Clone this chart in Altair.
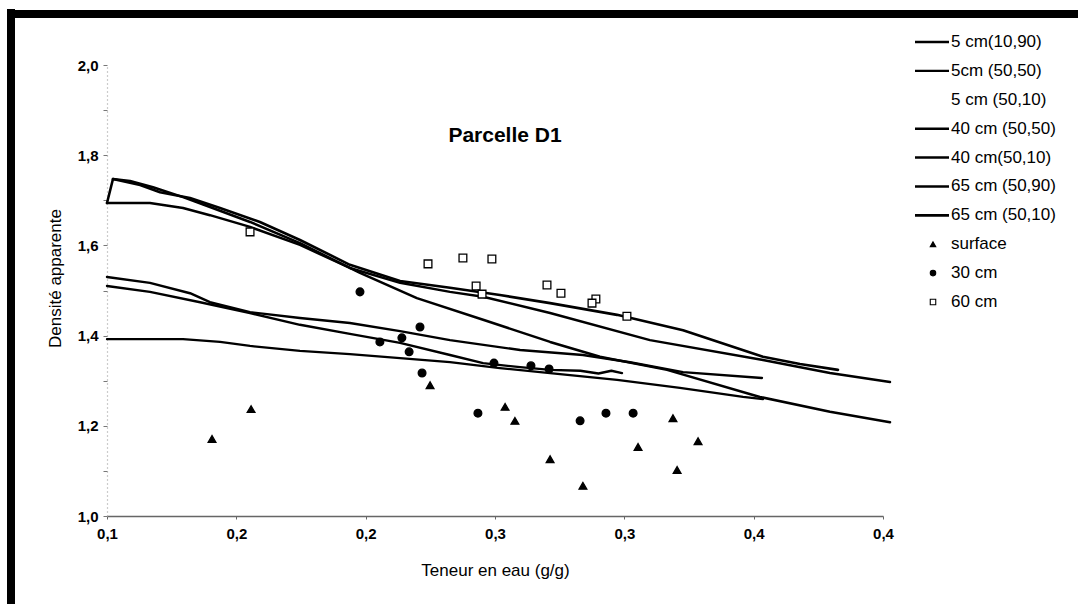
import json
import altair as alt
import pandas as pd

FONT = "Liberation Sans"

# ---------------- line series (x = teneur en eau, y = densité) ----------------
l5_1090_x = [0.1000, 0.1166, 0.1294, 0.1437, 0.1553, 0.1746, 0.1939, 0.2133, 0.2326, 0.2519, 0.2713, 0.2972, 0.3215, 0.3459, 0.3536]
l5_1090_y = [1.392, 1.392, 1.392, 1.386, 1.377, 1.366, 1.359, 1.350, 1.341, 1.328, 1.317, 1.302, 1.284, 1.264, 1.259]

l5_5050_x = [0.1000, 0.1166, 0.1360, 0.1553, 0.1746, 0.1939, 0.2133, 0.2326, 0.2454, 0.2597, 0.2713, 0.2830, 0.2900, 0.2950, 0.2991]
l5_5050_y = [1.510, 1.497, 1.474, 1.450, 1.424, 1.404, 1.384, 1.357, 1.339, 1.330, 1.324, 1.322, 1.316, 1.322, 1.317]

l40_5050_x = [0.1000, 0.1166, 0.1321, 0.1398, 0.1553, 0.1746, 0.1939, 0.2133, 0.2326, 0.2597, 0.2840, 0.3022, 0.3227, 0.3532]
l40_5050_y = [1.530, 1.517, 1.494, 1.474, 1.452, 1.439, 1.428, 1.410, 1.390, 1.368, 1.357, 1.341, 1.319, 1.306]

l40_5010_x = [0.1000, 0.1166, 0.1294, 0.1398, 0.1553, 0.1746, 0.1939, 0.2133, 0.2326, 0.2454, 0.2713, 0.3099, 0.3536, 0.3795, 0.4027]
l40_5010_y = [1.694, 1.694, 1.683, 1.667, 1.641, 1.601, 1.550, 1.517, 1.497, 1.486, 1.450, 1.390, 1.346, 1.317, 1.297]

l65_5090_x = [0.1000, 0.1023, 0.1089, 0.1178, 0.1294, 0.1398, 0.1553, 0.1746, 0.1978, 0.2198, 0.2454, 0.2713, 0.2906, 0.3165, 0.3524, 0.3795, 0.4027]
l65_5090_y = [1.694, 1.747, 1.743, 1.729, 1.707, 1.685, 1.652, 1.605, 1.539, 1.483, 1.435, 1.386, 1.353, 1.324, 1.264, 1.231, 1.208]

l65_5010_x = [0.1023, 0.1128, 0.1205, 0.1321, 0.1437, 0.1591, 0.1746, 0.1939, 0.2133, 0.2326, 0.2519, 0.2713, 0.2972, 0.3227, 0.3536, 0.3679, 0.3826]
l65_5010_y = [1.747, 1.734, 1.718, 1.705, 1.683, 1.652, 1.612, 1.557, 1.521, 1.506, 1.490, 1.472, 1.446, 1.412, 1.353, 1.337, 1.324]

line_names = ["5 cm(10,90)", "5cm (50,50)", "40 cm (50,50)", "40 cm(50,10)",
              "65 cm (50,90)", "65 cm (50,10)"]
line_xs = [l5_1090_x, l5_5050_x, l40_5050_x, l40_5010_x, l65_5090_x, l65_5010_x]
line_ys = [l5_1090_y, l5_5050_y, l40_5050_y, l40_5010_y, l65_5090_y, l65_5010_y]
line_widths = [2.3, 2.6, 2.1, 2.3, 4.4, 2.9]

# ---------------- measured points ----------------
surface_x = [0.1406, 0.1557, 0.2249, 0.2539, 0.2577, 0.2713, 0.2840, 0.3053, 0.3188, 0.3204, 0.3285]
surface_y = [1.171, 1.237, 1.290, 1.242, 1.211, 1.126, 1.067, 1.153, 1.217, 1.102, 1.166]

cm30_x = [0.1978, 0.2055, 0.2140, 0.2168, 0.2210, 0.2218, 0.2434, 0.2496, 0.2639, 0.2709, 0.2829, 0.2929, 0.3034]
cm30_y = [1.497, 1.386, 1.395, 1.364, 1.419, 1.317, 1.228, 1.339, 1.333, 1.326, 1.211, 1.228, 1.228]

cm60_x = [0.1553, 0.2241, 0.2376, 0.2488, 0.2427, 0.2450, 0.2701, 0.2755, 0.2890, 0.2875, 0.3010]
cm60_y = [1.630, 1.559, 1.572, 1.570, 1.510, 1.492, 1.512, 1.494, 1.481, 1.472, 1.443]

point_groups = ["surface", "30 cm", "60 cm"]
point_shapes = ["triangle-up", "circle", "square"]
point_fills = ["black", "black", "white"]

# ---------------- axes ----------------
x_tick_values = [0.10, 0.15, 0.20, 0.25, 0.30, 0.35, 0.40]
x_tick_labels = ["0,1", "0,2", "0,2", "0,3", "0,3", "0,4", "0,4"]
y_tick_values = [1.0, 1.1, 1.2, 1.3, 1.4, 1.5, 1.6, 1.7, 1.8, 1.9, 2.0]

legend_labels = ["5 cm(10,90)", "5cm (50,50)", "5 cm (50,10)", "40 cm (50,50)",
                 "40 cm(50,10)", "65 cm (50,90)", "65 cm (50,10)",
                 "surface", "30 cm", "60 cm"]

chart_title = ["Parcelle D1"]

# ---------------- tables ----------------
rows = []
for name, xs, ys in zip(line_names, line_xs, line_ys):
    for i, (xv, yv) in enumerate(zip(xs, ys)):
        rows.append({"serie": name, "x": xv, "y": yv, "i": i})
lines_df = pd.DataFrame(rows)

prow = []
for g, xs, ys in zip(point_groups, [surface_x, cm30_x, cm60_x], [surface_y, cm30_y, cm60_y]):
    for xv, yv in zip(xs, ys):
        prow.append({"groupe": g, "x": xv, "y": yv})
pts_df = pd.DataFrame(prow)

leg_lines_df = pd.DataFrame({"serie": line_names, "label": line_names})
leg_pts_df = pd.DataFrame({"groupe": point_groups, "label": point_groups})
leg_text_df = pd.DataFrame({"label": legend_labels})
title_df = pd.DataFrame({"t": chart_title})

W, H = 776, 451

x_scale = alt.Scale(domain=[0.1, 0.4], nice=False, zero=False)
y_scale = alt.Scale(domain=[1.0, 2.0], nice=False, zero=False)
sw_scale = alt.Scale(domain=line_names, range=line_widths)
shape_scale = alt.Scale(domain=point_groups, range=point_shapes)
fill_scale = alt.Scale(domain=point_groups, range=point_fills)
leg_y_scale = alt.Scale(type="point", domain=legend_labels, range=[-23, 237], padding=0)

x_label_expr = f"{json.dumps(x_tick_labels)}[indexof({json.dumps(x_tick_values)}, datum.value)]"
y_label_expr = "(round(datum.value*10) % 2 == 0) ? replace(format(datum.value, '.1f'), '.', ',') : ''"

x_axis = alt.Axis(values=x_tick_values, labelExpr=x_label_expr, labelFont=FONT,
                  labelFontSize=15, labelFontWeight="bold", labelColor="black",
                  labelFlush=False, labelOverlap=False, labelPadding=7,
                  tickSize=3, tickColor="#666", domainColor="#666", domainWidth=1.5,
                  grid=False, title="Teneur en eau (g/g)", titleFont=FONT,
                  titleFontSize=17, titleFontWeight="normal", titleColor="black",
                  titleY=59, titleBaseline="alphabetic")
y_axis = alt.Axis(values=y_tick_values, labelExpr=y_label_expr, labelFont=FONT,
                  labelFontSize=15, labelFontWeight="bold", labelColor="black",
                  labelFlush=False, labelOverlap=False, labelPadding=5,
                  tickSize=4, tickColor="#777", domainColor="#999", domainDash=[1, 3],
                  domainWidth=1.2, grid=False, title="Densité apparente", titleFont=FONT,
                  titleFontSize=17, titleFontWeight="normal", titleColor="black",
                  titleX=-43, titleY=213)

lines = alt.Chart(lines_df).mark_line(color="black", strokeCap="round", strokeJoin="round").encode(
    x=alt.X("x:Q", scale=x_scale, axis=x_axis),
    y=alt.Y("y:Q", scale=y_scale, axis=y_axis),
    detail="serie:N",
    order="i:Q",
    strokeWidth=alt.StrokeWidth("serie:N", scale=sw_scale, legend=None),
)

points = alt.Chart(pts_df).mark_point(filled=True, stroke="black", strokeWidth=1.3, opacity=1).encode(
    x=alt.X("x:Q", scale=x_scale),
    y=alt.Y("y:Q", scale=y_scale),
    shape=alt.Shape("groupe:N", scale=shape_scale, legend=None),
    fill=alt.Fill("groupe:N", scale=fill_scale, legend=None),
    size=alt.value(60),
)

main = alt.layer(lines, points)

leg_rules = alt.Chart(leg_lines_df).mark_rule(color="black").encode(
    y=alt.Y("label:N", scale=leg_y_scale, axis=None),
    x=alt.value(808), x2=alt.value(842),
    strokeWidth=alt.StrokeWidth("serie:N", scale=sw_scale, legend=None),
)
leg_pts = alt.Chart(leg_pts_df).mark_point(filled=True, stroke="black", strokeWidth=1.1, opacity=1).encode(
    y=alt.Y("label:N", scale=leg_y_scale, axis=None),
    x=alt.value(826),
    shape=alt.Shape("groupe:N", scale=shape_scale, legend=None),
    fill=alt.Fill("groupe:N", scale=fill_scale, legend=None),
    size=alt.value(30),
)
leg_text = alt.Chart(leg_text_df).mark_text(align="left", baseline="middle", font=FONT,
                                            fontSize=17, color="black").encode(
    y=alt.Y("label:N", scale=leg_y_scale, axis=None),
    x=alt.value(844),
    text="label:N",
)
legend = alt.layer(leg_rules, leg_pts, leg_text)

title_mark = alt.Chart(title_df).mark_text(align="center", baseline="alphabetic", font=FONT,
                                           fontSize=21, fontWeight="bold", color="black").encode(
    x=alt.value(398), y=alt.value(77), text="t:N")

frame_v = alt.Chart(alt.Data(values=[{"k": 1}])).mark_rule(color="black", strokeWidth=8).encode(
    x=alt.value(-96), y=alt.value(-56), y2=alt.value(545))
frame_h = alt.Chart(alt.Data(values=[{"k": 1}])).mark_rule(color="black", strokeWidth=8).encode(
    y=alt.value(-51), x=alt.value(-100), x2=alt.value(980))

chart = alt.layer(main, legend, title_mark, frame_v, frame_h).resolve_scale(y="independent").properties(
    width=W, height=H,
    autosize=alt.AutoSizeParams(type="none"),
    padding={"left": 107, "top": 65, "right": 195, "bottom": 88},
    background="white",
).configure_view(strokeWidth=0)

chart.save("out.html", embed_options={"renderer": "svg", "actions": False})
